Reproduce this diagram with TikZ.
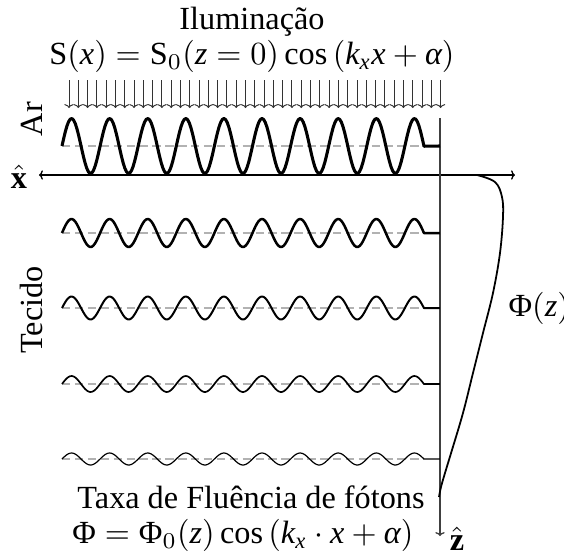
\documentclass[tikz,border=0pt]{standalone}
\usepackage{amsmath}
\usepackage{fontspec}
\setmainfont{Liberation Serif}
\usepackage{tikz}
\usetikzlibrary{positioning,arrows.meta}

\begin{document}
\begin{tikzpicture}[
		x=0.31pt, y=-0.31pt,
		font=\normalsize,
		lbl/.style={inner sep=0pt},
		ray/.style={black!80, line width=0.3pt, -{To[length=1.2pt,width=2.9pt]}},
		axisline/.style={line width=0.4pt, {To[length=1.2pt,width=2.9pt]}-{To[length=1.2pt,width=2.9pt]}},
		depthline/.style={black!75, line width=0.4pt, -{To[length=1.2pt,width=2.9pt]}},
		zeroline/.style={gray!60, line width=0.4pt, dash pattern=on 2.6pt off 1.4pt},
		wave/.style={black, line join=round},
		profile/.style={black, line width=0.55pt}
	]
	\useasboundingbox (0,0) rectangle (564,555);
	
	% illumination
	\node[lbl, anchor=base] (ilum) at (252,29) {Iluminação};
	\node[lbl, below=11pt of ilum.base, anchor=base] (sx) {$\mathrm{S}(\mathit{x}) = \mathrm{S}_0(\mathit{z}=0)\cos\left(\mathit{k}_{\mathit{x}}\mathit{x}+\textit{α}\right)$};
	\foreach \i in {0,...,40}
		\draw[ray] ({69+9.29*\i},80) -- ++(0,28);
	
	% axes
	\coordinate (xl) at (39,175);
	\coordinate (xr) at (515,175);
	\coordinate (zt) at (440,118);
	\coordinate (zb) at (440,536);
	\draw[axisline] (xl) -- (xr);
	\draw[depthline] (zt) -- (zb);
	\node[lbl] (xhat) at (19,177) {$\hat{\mathbf{x}}$};
	\node[lbl] (zhat) at (457,539) {$\hat{\mathbf{z}}$};
	
	% media
	\node[lbl, rotate=90] (ar) at (32,119) {Ar};
	\node[lbl, rotate=90] (tecido) at (31,310) {Tecido};
	
	% waves
	\foreach \yb/\amp/\lw in {146/27.5/0.95, 233/14/0.78, 308/11.5/0.62, 384/8/0.52, 459/6/0.37}{
		\draw[zeroline] (62,\yb) -- (424,\yb);
		\draw[wave, line width=\lw pt] plot[domain=62:424, samples=220] (\x,{\yb-\amp*sin((\x-62)/38.1*360)}) -- (440,\yb);
	}
	
	% fluence profile
	\draw[profile] plot[smooth, tension=0.6] coordinates {(477,175) (495,182) (502,197) (503,217) (500,253) (493,293) (483,333) (473,373) (463,413) (452,450) (445,473) (441,487) (439,497)};
	\node[lbl, anchor=west] (phiz) at (508,308) {$\text{Φ}(\mathit{z})$};
	
	% fluence rate
	\node[lbl, anchor=base] (taxa) at (251,508) {Taxa de Fluência de fótons};
	\node[lbl, below=11pt of taxa.base, anchor=base, xshift=-2.5pt] (phi) {$\text{Φ} = \text{Φ}_0(\mathit{z})\cos\left(\mathit{k}_{\mathit{x}}\cdot \mathit{x}+\textit{α}\right)$};
\end{tikzpicture}
\end{document}
